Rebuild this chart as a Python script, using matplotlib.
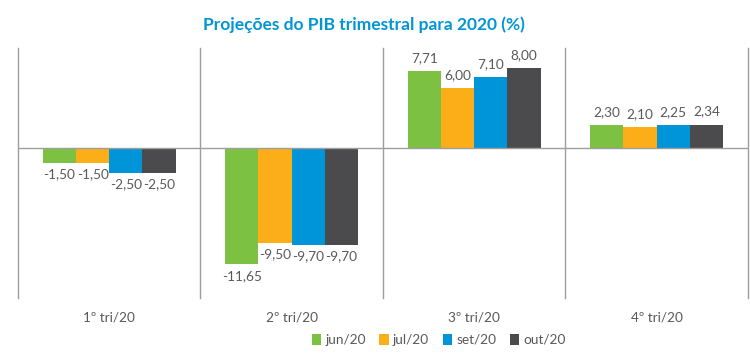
import matplotlib.pyplot as plt
import matplotlib.transforms as mtransforms
from matplotlib.patches import Patch
import numpy as np

plt.rcParams["font.family"] = ["Lato", "DejaVu Sans"]

trimestres = ["1º tri/20", "2º tri/20", "3º tri/20", "4º tri/20"]
series = ["jun/20", "jul/20", "set/20", "out/20"]
jun = [-1.50, -11.65, 7.71, 2.30]
jul = [-1.50, -9.50, 6.00, 2.10]
set_ = [-2.50, -9.70, 7.10, 2.25]
out = [-2.50, -9.70, 8.00, 2.34]
valores = [jun, jul, set_, out]

cores = ["#7DC142", "#FBAE17", "#0095D9", "#4B4B4D"]
cinza_txt = "#595959"
cinza_linha = "#9E9E9E"

fig = plt.figure(figsize=(7.5, 3.55), dpi=100)
ax = fig.add_axes([0.024, 0.161, 0.973, 0.704])

x = np.arange(len(trimestres))
largura = 0.182

for i, (serie, vals, cor) in enumerate(zip(series, valores, cores)):
    pos = x + (i - 1.5) * largura
    ax.bar(pos, vals, width=largura, color=cor, zorder=2)
    for px, v in zip(pos, vals):
        txt = f"{v:.2f}".replace(".", ",")
        if v >= 0:
            ax.annotate(txt, (px, v), xytext=(0, 5), textcoords="offset points",
                        ha="center", va="bottom", fontsize=9.8, color=cinza_txt)
        else:
            ax.annotate(txt, (px, v), xytext=(0, -4), textcoords="offset points",
                        ha="center", va="top", fontsize=9.8, color=cinza_txt)

ax.set_xlim(-0.5, 3.5)
ax.set_ylim(-15, 10)
ax.axhline(0, color=cinza_linha, lw=1, zorder=3)
for b in np.arange(-0.5, 4, 1):
    ax.axvline(b, color=cinza_linha, lw=1, zorder=1, clip_on=False)

for s in ax.spines.values():
    s.set_visible(False)
ax.set_xticks([])
ax.set_yticks([])

trans = mtransforms.blended_transform_factory(ax.transData, ax.transAxes)
for xi, t in zip(x, trimestres):
    ax.text(xi, -0.08, t, transform=trans, ha="center", va="center",
            fontsize=9.8, color=cinza_txt)

fig.suptitle("Projeções do PIB trimestral para 2020 (%)", x=0.485, y=0.955,
             fontsize=12.5, fontweight="bold", color="#0096D6")

handles = [Patch(facecolor=c, label=s) for c, s in zip(cores, series)]
fig.legend(handles=handles, loc="center", bbox_to_anchor=(0.585, 0.043), ncol=4,
           frameon=False, fontsize=9.8, handlelength=0.7, handleheight=0.9,
           handletextpad=0.3, columnspacing=1.0, labelcolor=cinza_txt)

fig.savefig("out.png", dpi=100)
